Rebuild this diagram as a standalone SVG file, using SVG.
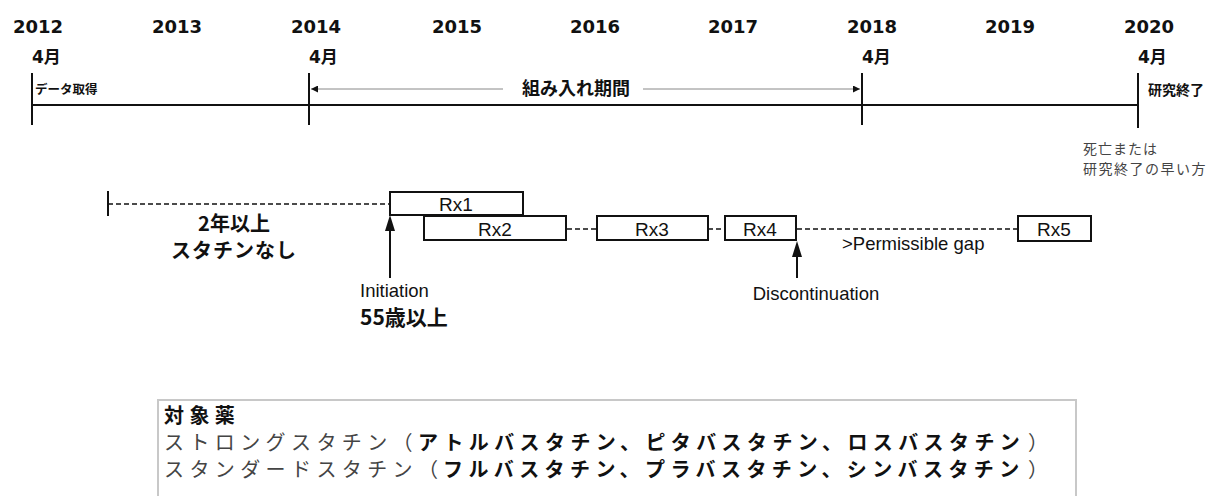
<svg xmlns="http://www.w3.org/2000/svg" width="1219" height="496" viewBox="0 0 1219 496">
<style>
.yr{font-family:"DejaVu Sans","Noto Sans CJK JP",sans-serif;font-weight:bold;font-size:18px;fill:#111;text-anchor:middle}
.mo{font-family:"DejaVu Sans","Noto Sans CJK JP",sans-serif;font-weight:bold;font-size:17px;fill:#111}
.jb{font-family:"Noto Sans CJK JP",sans-serif;font-weight:bold;fill:#111}
.jn{font-family:"Noto Sans CJK JP",sans-serif;fill:#444}
.ar{font-family:"Liberation Sans",Arial,sans-serif;fill:#111}
.rxl{font-family:"Liberation Sans",Arial,sans-serif;fill:#111;font-size:19px;text-anchor:middle}
.tick{stroke:#111;stroke-width:2}
.rx{fill:#fff;stroke:#111;stroke-width:2}
.dash{stroke:#111;stroke-width:1.6;stroke-dasharray:5 3;fill:none}
.drug{font-size:20px;letter-spacing:5.4px}
</style>
<defs>
<marker id="sm" viewBox="0 0 10 10" refX="10" refY="5" markerWidth="7" markerHeight="7" markerUnits="userSpaceOnUse" orient="auto">
<path d="M0,0 L10,5 L0,10 z" fill="#111"/>
</marker>
</defs>

<g id="years">
<text class="yr" x="38" y="33">2012</text>
<text class="yr" x="177" y="33">2013</text>
<text class="yr" x="316" y="33">2014</text>
<text class="yr" x="457" y="33">2015</text>
<text class="yr" x="595" y="33">2016</text>
<text class="yr" x="733" y="33">2017</text>
<text class="yr" x="872" y="33">2018</text>
<text class="yr" x="1010" y="33">2019</text>
<text class="yr" x="1149" y="33">2020</text>
<text class="mo" x="32" y="63">4月</text>
<text class="mo" x="309" y="63">4月</text>
<text class="mo" x="862" y="63">4月</text>
<text class="mo" x="1138" y="63">4月</text>
</g>

<g id="timeline">
<line class="tick" x1="32" y1="73" x2="32" y2="125"/>
<line class="tick" x1="309" y1="73" x2="309" y2="125"/>
<line class="tick" x1="862" y1="73" x2="862" y2="125"/>
<line class="tick" x1="1138" y1="73" x2="1138" y2="128"/>
<line class="tick" x1="32" y1="105" x2="1138" y2="105"/>
<text class="jb" x="35" y="94" font-size="12.5">データ取得</text>
<text class="jb" x="1148" y="95" font-size="14">研究終了</text>
<text class="jn" x="1083" y="154" font-size="14" fill="#555" letter-spacing="1">死亡または</text>
<text class="jn" x="1083" y="174" font-size="14" fill="#555" letter-spacing="1.5">研究終了の早い方</text>
</g>

<g id="enrollment">
<line x1="503" y1="89" x2="311" y2="89" stroke="#888" stroke-width="1" marker-end="url(#sm)"/>
<line x1="643" y1="89" x2="860" y2="89" stroke="#888" stroke-width="1" marker-end="url(#sm)"/>
<text class="jb" x="576" y="95" font-size="18" text-anchor="middle">組み入れ期間</text>
</g>

<g id="connectors">
<line class="tick" x1="108" y1="191" x2="108" y2="216" stroke-width="1.6"/>
<line class="dash" x1="108" y1="204" x2="389" y2="204"/>
<line class="dash" x1="567" y1="229" x2="597" y2="229"/>
<line class="dash" x1="708" y1="229" x2="725" y2="229"/>
<line class="dash" x1="797" y1="229" x2="1018" y2="229"/>
<line x1="390" y1="278" x2="390" y2="228" stroke="#111" stroke-width="2"/>
<path d="M390,215 L395,231 L385,231 z" fill="#111"/>
<line x1="797" y1="278" x2="797" y2="254" stroke="#111" stroke-width="2"/>
<path d="M797,241 L802,257 L792,257 z" fill="#111"/>
</g>

<g id="rx1"><rect class="rx" x="390" y="192" width="133" height="23"/><text class="rxl" x="456" y="211">Rx1</text></g>
<g id="rx2"><rect class="rx" x="424" y="216" width="142" height="24"/><text class="rxl" x="495" y="236">Rx2</text></g>
<g id="rx3"><rect class="rx" x="597" y="216" width="111" height="24"/><text class="rxl" x="652" y="236">Rx3</text></g>
<g id="rx4"><rect class="rx" x="725" y="216" width="71" height="24"/><text class="rxl" x="760" y="236">Rx4</text></g>
<g id="rx5"><rect class="rx" x="1018" y="216" width="73" height="25"/><text class="rxl" x="1054" y="236">Rx5</text></g>

<g id="labels">
<text class="jb" x="234" y="231" font-size="20" text-anchor="middle">2年以上</text>
<text class="jb" x="234" y="258" font-size="20" text-anchor="middle" letter-spacing="1">スタチンなし</text>
<text class="ar" x="360" y="297" font-size="18.5">Initiation</text>
<text class="jb" x="360" y="325" font-size="21">55歳以上</text>
<text class="ar" x="816" y="300" font-size="18.5" text-anchor="middle">Discontinuation</text>
<text class="ar" x="842" y="250" font-size="18.5">&gt;Permissible gap</text>
</g>

<g id="drugs">
<path d="M158,497 L158,400 L1076,400 L1076,497" fill="none" stroke="#c8c8c8" stroke-width="2"/>
<text class="jb drug" x="164" y="423">対象薬</text>
<text class="jn drug" x="164" y="450">ストロングスタチン（</text>
<text class="jb drug" x="418" y="450">アトルバスタチン、ピタバスタチン、ロスバスタチン</text>
<text class="jn drug" x="1028" y="450">）</text>
<text class="jn drug" x="164" y="477">スタンダードスタチン（</text>
<text class="jb drug" x="443" y="477">フルバスタチン、プラバスタチン、シンバスタチン</text>
<text class="jn drug" x="1028" y="477">）</text>
</g>
</svg>
